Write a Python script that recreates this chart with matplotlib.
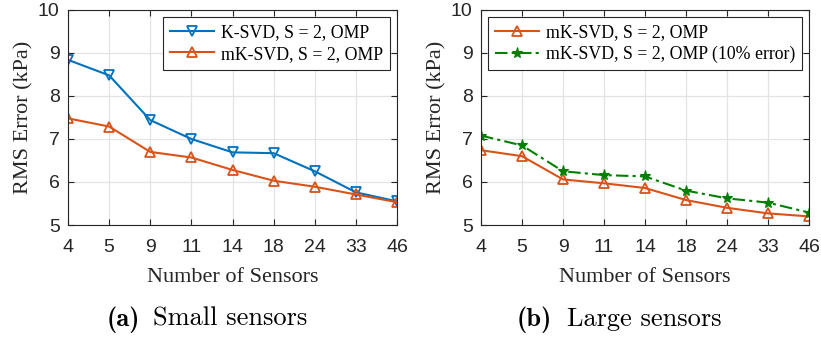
import matplotlib
matplotlib.use('Agg')
import matplotlib.pyplot as plt
import numpy as np

sensors = ['4', '5', '9', '11', '14', '18', '24', '33', '46']
ksvd_small = [8.84, 8.48, 7.44, 7.00, 6.69, 6.67, 6.25, 5.76, 5.55]
mksvd_small = [7.48, 7.29, 6.70, 6.57, 6.28, 6.03, 5.89, 5.71, 5.53]
mksvd_large = [6.74, 6.60, 6.06, 5.97, 5.86, 5.58, 5.40, 5.27, 5.20]
mksvd_large_err = [7.08, 6.85, 6.25, 6.16, 6.13, 5.80, 5.62, 5.52, 5.29]

blue = '#0072BD'
orange = '#D95319'
green = '#008000'
serif = ['Liberation Serif', 'DejaVu Serif']
sans = ['Liberation Sans', 'DejaVu Sans']

fig = plt.figure(figsize=(8.21, 3.37), dpi=100)
ax1 = fig.add_axes([68 / 821, 1 - 225 / 337, 329 / 821, 215 / 337])
ax2 = fig.add_axes([481 / 821, 1 - 225 / 337, 328 / 821, 215 / 337])

x = np.arange(len(sensors))

ax1.plot(x, ksvd_small, color=blue, lw=1.5, marker='v', ms=6.5, mfc='none', mew=1.3,
         label='K-SVD, S = 2, OMP')
ax1.plot(x, mksvd_small, color=orange, lw=1.5, marker='^', ms=6.5, mfc='none', mew=1.3,
         label='mK-SVD, S = 2, OMP')

ax2.plot(x, mksvd_large, color=orange, lw=1.5, marker='^', ms=6.5, mfc='none', mew=1.3,
         label='mK-SVD, S = 2, OMP')
ax2.plot(x, mksvd_large_err, color=green, lw=1.5, ls=(0, (6, 2, 1.5, 2)), marker='*', ms=8,
         mew=0.8, label='mK-SVD, S = 2, OMP (10% error)')

for ax in (ax1, ax2):
    ax.set_xlim(0, len(sensors) - 1)
    ax.set_ylim(5, 10)
    ax.set_xticks(x)
    ax.set_xticklabels(sensors, family=sans, fontsize=14)
    ax.set_yticks([5, 6, 7, 8, 9, 10])
    ax.set_yticklabels(['5', '6', '7', '8', '9', '10'], family=sans, fontsize=14)
    ax.tick_params(direction='in', top=True, right=True, length=4, width=0.8,
                   colors='#262626')
    ax.tick_params(axis='x', pad=10)
    ax.tick_params(axis='y', pad=6)
    ax.grid(True, color='#e3e3e3', lw=0.9)
    ax.set_axisbelow(True)
    for s in ax.spines.values():
        s.set_color('#262626')
        s.set_linewidth(0.8)
    ax.set_xlabel('Number of Sensors', family=serif, fontsize=16, color='#262626', labelpad=9)
    ax.set_ylabel('RMS Error (kPa)', family=serif, fontsize=16, color='#262626', labelpad=3)
    leg = ax.legend(loc='upper right', prop={'family': serif, 'size': 12.8}, fancybox=False,
                    framealpha=1, edgecolor='#262626', handlelength=2.5, borderpad=0.4,
                    labelspacing=0.25, handletextpad=0.35, borderaxespad=0.4)
    leg.get_frame().set_linewidth(0.8)

fig.text(107 / 821, 0.033, '(a)', family='cmb10', fontsize=19, ha='left', va='baseline')
fig.text(153 / 821, 0.033, 'Small sensors', family='cmr10', fontsize=19, ha='left', va='baseline')
fig.text(517 / 821, 0.033, '(b)', family='cmb10', fontsize=19, ha='left', va='baseline')
fig.text(567 / 821, 0.033, 'Large sensors', family='cmr10', fontsize=19, ha='left', va='baseline')

fig.savefig('out.png', dpi=100, facecolor='w')
